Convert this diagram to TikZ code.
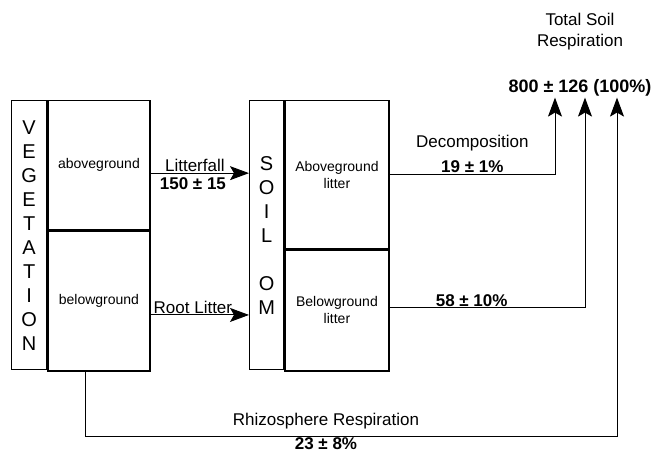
\documentclass[tikz,border=0pt]{standalone}
\usepackage{fontspec}
\setmainfont{Liberation Sans}
\usetikzlibrary{arrows.meta,positioning}

\tikzset{
  cell/.style={draw, line width=1.3pt, inner sep=0pt, align=center,
    font=\fontsize{14}{17}\selectfont},
  letters/.style={cell, font=\fontsize{20}{24}\selectfont},
  flow/.style={line width=1pt, -{Stealth[length=19pt,width=14pt,inset=4pt]}},
  lbl/.style={font=\fontsize{17}{21}\selectfont, inner sep=1pt},
  num/.style={font=\bfseries\fontsize{17}{19}\selectfont, inner sep=1pt},
}

\begin{document}
\begin{tikzpicture}[x=1pt, y=-1pt]

% === Wymiary ===
\useasboundingbox (0,0) rectangle (657,454);

% === VEGETATION ===
\node[letters, minimum width=35pt, minimum height=269pt, anchor=north west]
  (vegcol) at (11,100) {V\\E\\G\\E\\T\\A\\T\\I\\O\\N};
\node[cell, minimum width=102pt, minimum height=129pt, anchor=north west]
  (vegabove) at (vegcol.north east) {aboveground};
\node[cell, minimum width=102pt, minimum height=140pt, anchor=north]
  (vegbelow) at (vegabove.south) {belowground};

% === SOIL OM ===
\node[letters, minimum width=34pt, minimum height=269pt, anchor=north west]
  (soilcol) at (249,100) {S\\O\\I\\L\\[24pt]O\\M};
\node[cell, minimum width=104pt, minimum height=148pt, anchor=north west]
  (soilabove) at (soilcol.north east) {Aboveground\\litter};
\node[cell, minimum width=104pt, minimum height=121pt, anchor=north]
  (soilbelow) at (soilabove.south) {Belowground\\litter};

% === Total soil respiration ===
\node[num, font=\bfseries\fontsize{18}{20}\selectfont] (resp) at (580,88)
  {800 ± 126 (100\%)};
\node[lbl, align=center, above=27pt of resp] (tsr) {Total Soil\\Respiration};

% === Punkty startowe ===
\coordinate (lf) at ([yshift=-8pt]vegabove.east);
\coordinate (rl) at ([yshift=-14pt]vegbelow.east);
\coordinate (bl) at ([yshift=2.5pt]soilbelow.east);
\coordinate (rh) at ([xshift=-13pt]vegbelow.south);

% === Strumienie ===
\draw[flow] (lf) -- (lf -| soilcol.west)
  node[pos=0.45, lbl, above] {Litterfall}
  node[pos=0.43, num, below=3pt] {150 ± 15};
\draw[flow] (rl) -- (rl -| soilcol.west)
  node[pos=0.43, lbl, above] {Root Litter};
\draw[flow] (soilabove.east) -| ([xshift=-25pt]resp.south)
  node[pos=0.25, num, above] {19 ± 1\%}
  node[pos=0.25, lbl, above=22pt] {Decomposition};
\draw[flow] (bl) -| ([xshift=5pt]resp.south)
  node[pos=0.21, num, above] {58 ± 10\%};
\draw[flow] (rh) -- ++(0,65) -| ([xshift=37pt]resp.south)
  node[pos=0.226, lbl, above=6pt] {Rhizosphere Respiration}
  node[pos=0.226, num, below] {23 ± 8\%};

\end{tikzpicture}
\end{document}
